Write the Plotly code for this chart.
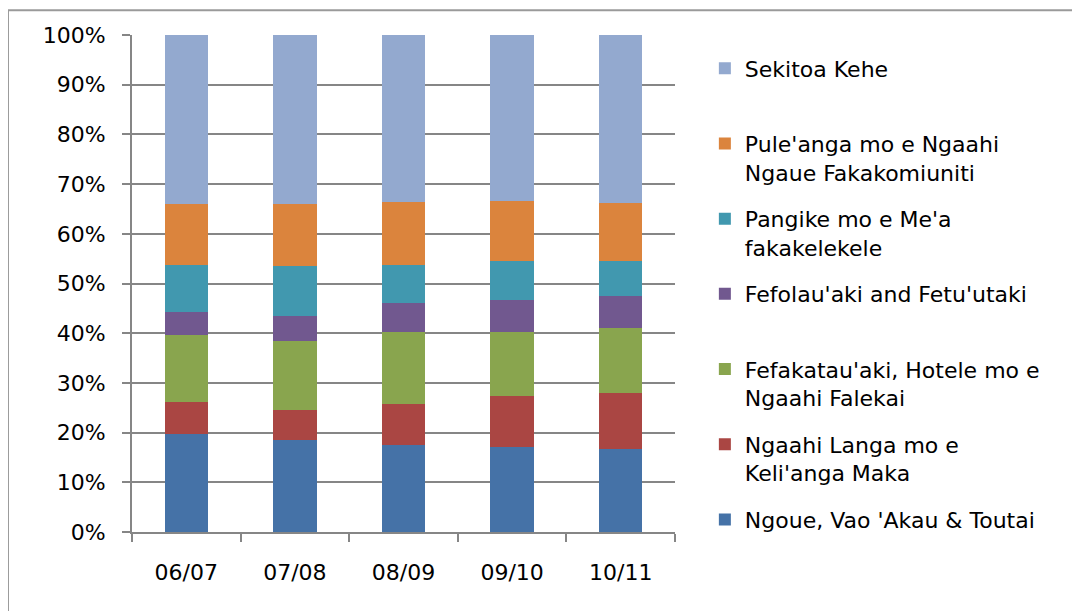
import plotly.graph_objects as go

years = ['06/07', '07/08', '08/09', '09/10', '10/11']

# share of each sector, percent
ngoue = [19.8, 18.6, 17.5, 17.1, 16.7]
langa = [6.4, 6.0, 8.3, 10.3, 11.3]
fefakatau = [13.4, 13.8, 14.4, 12.8, 13.0]
fefolau = [4.7, 5.1, 5.8, 6.4, 6.4]
pangike = [9.5, 10.0, 7.8, 8.0, 7.1]
puleanga = [12.1, 12.4, 12.5, 12.1, 11.7]
kehe = [34.1, 34.1, 33.7, 33.3, 33.8]

series = [
    ("Ngoue, Vao 'Akau & Toutai", ngoue, '#4572A7'),
    ("Ngaahi Langa mo e<br>Keli'anga Maka", langa, '#AA4643'),
    ("Fefakatau'aki, Hotele mo e<br>Ngaahi Falekai", fefakatau, '#89A54E'),
    ("Fefolau'aki and Fetu'utaki", fefolau, '#71588F'),
    ("Pangike mo e Me'a<br>fakakelekele", pangike, '#4198AF'),
    ("Pule'anga mo e Ngaahi<br>Ngaue Fakakomiuniti", puleanga, '#DB843D'),
    ("Sekitoa Kehe", kehe, '#93A9CF'),
]

fig = go.Figure()
for i, (name, vals, col) in enumerate(series):
    # pad single-line names so every legend slot is two lines tall
    label = name if '<br>' in name else name + '<br> '
    fig.add_trace(go.Bar(x=years, y=vals, name=label, marker_color=col,
                         marker_line_width=0, legendgroup='g%d' % i,
                         legendrank=100 - i))

font = dict(family='DejaVu Sans', size=22, color='black')

# the page body adds an 8px offset, so the figure is 8px smaller
fig.update_layout(
    barmode='stack',
    bargap=0.6,
    width=1072, height=603,
    margin=dict(l=124, r=405, t=27, b=79),
    paper_bgcolor='white', plot_bgcolor='white',
    font=font,
    showlegend=True,
    legend=dict(
        x=1.055, xanchor='left', y=0.975, yanchor='top',
        traceorder='grouped', tracegroupgap=15,
        valign='top', font=font, bgcolor='rgba(0,0,0,0)',
        maxheight=600,
    ),
)

fig.update_yaxes(
    range=[0, 100], tickvals=[0, 10, 20, 30, 40, 50, 60, 70, 80, 90, 100],
    ticktext=['0%', '10%', '20%', '30%', '40%', '50%', '60%', '70%', '80%', '90%', '100%'],
    showgrid=True, gridcolor='#868686', gridwidth=1.5,
    showline=True, linecolor='#868686', linewidth=2,
    ticks='outside', ticklen=8, tickcolor='#868686', tickwidth=1.5,
    ticklabelstandoff=12, zeroline=False,
)
fig.update_xaxes(
    showline=True, linecolor='#868686', linewidth=2,
    ticks='outside', ticklen=8, tickcolor='#868686', tickwidth=1.5,
    tickson='boundaries', ticklabelstandoff=20,
)

# chart frame (top and left edges visible)
fig.add_shape(type='line', xref='paper', yref='paper',
              x0=-0.2284, x1=1.8, y0=1.05, y1=1.05,
              line=dict(color='#9a9a9a', width=2))
fig.add_shape(type='line', xref='paper', yref='paper',
              x0=-0.2284, x1=-0.2284, y0=1.05, y1=-0.2,
              line=dict(color='#9a9a9a', width=2))

fig.write_html("out.html")
